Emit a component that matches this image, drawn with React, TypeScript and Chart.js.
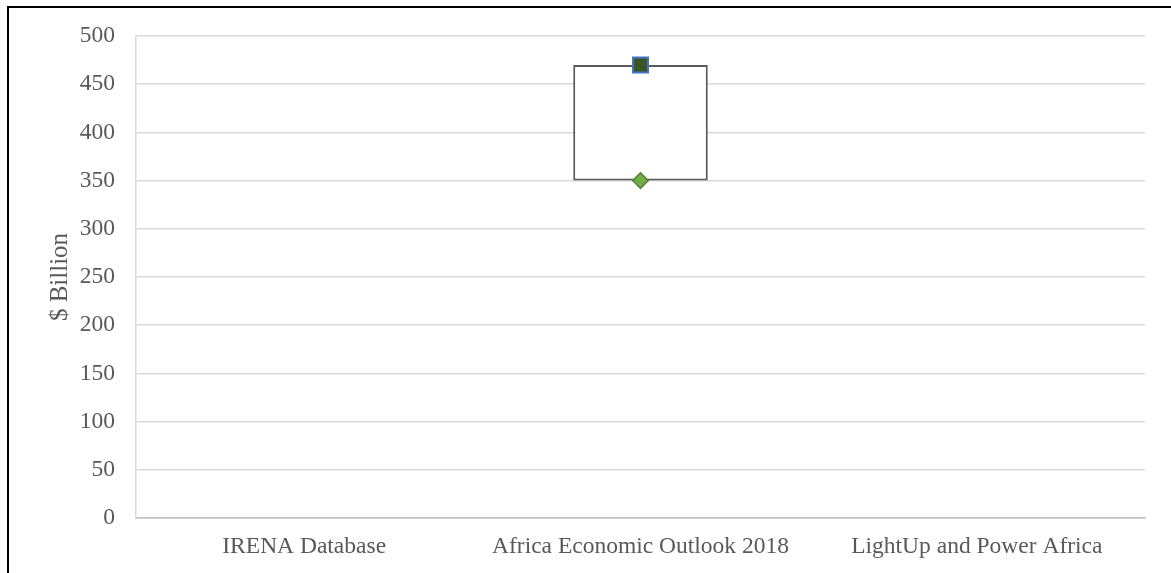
import React, { useEffect, useRef } from "react";
import { Chart, registerables } from "chart.js";

Chart.register(...registerables);

const categories = ["IRENA Database", "Africa Economic Outlook 2018", "LightUp and Power Africa"];
const rangeLow = [null, 350, null];
const rangeHigh = [null, 470, null];
const highValues = [null, 470, null];
const lowValues = [null, 350, null];
const yTicks = [0, 50, 100, 150, 200, 250, 300, 350, 400, 450, 500];

const FONT = "'Liberation Serif', 'Times New Roman', serif";

export default function App() {
  const ref = useRef<HTMLCanvasElement | null>(null);

  useEffect(() => {
    if (!ref.current) return;
    const floating = categories.map((_, i) =>
      rangeLow[i] == null ? null : [rangeLow[i] as number, rangeHigh[i] as number]
    );
    const chart = new Chart(ref.current, {
      type: "bar",
      data: {
        labels: categories,
        datasets: [
          {
            type: "bar",
            label: "Range",
            data: floating as any,
            backgroundColor: "#ffffff",
            borderColor: "#595959",
            borderWidth: 2,
            borderSkipped: false,
            barPercentage: 0.4,
            categoryPercentage: 1,
            order: 3,
          } as any,
          {
            type: "line",
            label: "High",
            data: highValues as any,
            showLine: false,
            pointStyle: "rect",
            pointRadius: 10.6,
            pointBackgroundColor: "#375623",
            pointBorderColor: "#4472C4",
            pointBorderWidth: 2,
            order: 1,
          } as any,
          {
            type: "line",
            label: "Low",
            data: lowValues as any,
            showLine: false,
            pointStyle: "rectRot",
            pointRadius: 7.8,
            pointBackgroundColor: "#70AD47",
            pointBorderColor: "#548235",
            pointBorderWidth: 1.5,
            order: 2,
          } as any,
        ],
      },
      options: {
        animation: false,
        responsive: false,
        maintainAspectRatio: false,
        layout: { padding: { left: 0, top: 36, right: 26, bottom: 0 } },
        plugins: { legend: { display: false }, tooltip: { enabled: false } },
        scales: {
          x: {
            grid: { color: "rgba(0,0,0,0)", drawTicks: false },
            border: { display: true, color: "#bfbfbf", width: 1.5 },
            ticks: { color: "#595959", font: { family: FONT, size: 23.5 }, padding: 15, maxRotation: 0, autoSkip: false },
            afterFit: (s: any) => { s.height = 55; },
          },
          y: {
            min: 0,
            max: 500,
            afterBuildTicks: (s: any) => { s.ticks = yTicks.map((v) => ({ value: v })); },
            grid: { color: "#d9d9d9", lineWidth: 1.5, drawTicks: false },
            border: { display: true, color: "#d9d9d9", width: 1.5 },
            ticks: { color: "#595959", font: { family: FONT, size: 23.5 }, padding: 21 },
            title: {
              display: true,
              text: "$ Billion",
              color: "#595959",
              font: { family: FONT, size: 25 },
              padding: { top: 45, bottom: 0 },
            },
            afterFit: (s: any) => { s.width = 136; },
          },
        },
      },
    });
    return () => chart.destroy();
  }, []);

  return (
    <div style={{ position: "fixed", left: 0, top: 0, width: 1171, height: 573, background: "#fff" }}>
      <div
        style={{
          position: "absolute",
          left: 7,
          top: 6,
          width: 1200,
          height: 600,
          borderLeft: "2px solid #000",
          borderTop: "2px solid #000",
        }}
      />
      <canvas ref={ref} width={1171} height={573} style={{ position: "absolute", left: 0, top: 0 }} />
    </div>
  );
}
